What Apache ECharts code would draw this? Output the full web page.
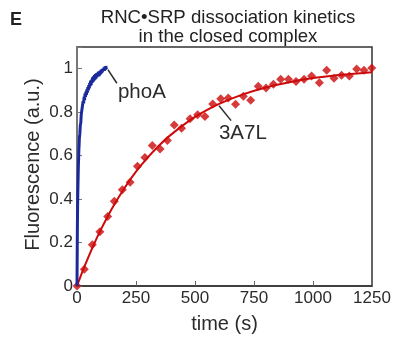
<!DOCTYPE html>
<html>
<head>
<meta charset="utf-8">
<script src="https://cdn.jsdelivr.net/npm/echarts@6/dist/echarts.min.js"></script>
<style>
  html, body { margin: 0; padding: 0; background: #fff; }
  #chart { width: 394px; height: 339px; }
</style>
</head>
<body>
<div id="chart"></div>
<script>
// 3A7L: measured points (time in s, normalised fluorescence)
const redTimes = [0, 31, 65, 97, 130, 158, 192, 225, 256, 288, 319, 352, 383, 412, 443, 479, 511, 542, 575, 609,
                  641, 672, 705, 736, 768, 801, 832, 863, 896, 928, 962, 994, 1027, 1058, 1089, 1121, 1154, 1185, 1216, 1249];
const redValues = [0, 0.077, 0.19, 0.25, 0.32, 0.39, 0.443, 0.477, 0.551, 0.591, 0.647, 0.63, 0.67, 0.741, 0.726, 0.77, 0.788, 0.78, 0.838, 0.862,
                   0.865, 0.836, 0.873, 0.855, 0.919, 0.911, 0.929, 0.951, 0.951, 0.941, 0.951, 0.966, 0.936, 0.993, 0.956, 0.97, 0.966, 0.999, 0.993, 1.003];

// 3A7L: fitted single-exponential curve
const redFitTimes = [0, 25, 50, 75, 100, 150, 200, 250, 300, 350, 400, 500, 600, 700, 800, 900, 1000, 1100, 1250];
const redFitValues = [0, 0.072, 0.138, 0.200, 0.257, 0.360, 0.449, 0.526, 0.592, 0.649, 0.698, 0.778, 0.837, 0.881, 0.914, 0.938, 0.957, 0.970, 0.984];

// phoA: fast trace
const blueTimes = [0, 0.5, 1, 1.5, 2, 2.5, 3, 3.5, 4, 5, 6, 7, 8, 9, 10, 12, 14, 16, 18, 20,
                   22, 24, 26, 28, 30, 32, 34, 36, 38, 40, 42, 44, 46, 48, 50, 52, 54, 56, 58, 60,
                   62, 64, 66, 68, 70, 72, 74, 76, 78, 80, 82, 84, 86, 88, 90, 92, 94, 96, 98, 100,
                   102, 104, 106, 108, 110, 112, 114, 116, 118, 120, 122, 124, 125];
const blueValues = [0, 0.09, 0.17, 0.25, 0.31, 0.36, 0.40, 0.43, 0.46, 0.51, 0.56, 0.59, 0.63, 0.65, 0.68, 0.70, 0.74, 0.75, 0.79, 0.79,
                    0.82, 0.82, 0.85, 0.84, 0.87, 0.855, 0.885, 0.87, 0.895, 0.88, 0.905, 0.89, 0.915, 0.90, 0.925, 0.91, 0.935, 0.92, 0.945, 0.925,
                    0.95, 0.935, 0.96, 0.94, 0.965, 0.945, 0.97, 0.95, 0.975, 0.955, 0.978, 0.96, 0.98, 0.965, 0.985, 0.965, 0.988, 0.97, 0.99, 0.975,
                    0.995, 0.98, 0.998, 0.985, 1.0, 0.99, 1.005, 0.99, 1.01, 0.995, 1.012, 1.0, 1.005];

const xTicks = [0, 250, 500, 750, 1000, 1250];
const yTicks = [0, 0.2, 0.4, 0.6, 0.8, 1];

const pair = (xs, ys) => xs.map((x, i) => [x, ys[i]]);

const FONT = '"Liberation Sans", Arial, sans-serif';
const TEXT = '#2b2b2b';
const RED = '#cc0a0a';
const BLUE = '#1a2a9c';

const chart = echarts.init(document.getElementById('chart'), null, { renderer: 'canvas' });

chart.setOption({
  animation: false,
  backgroundColor: '#fff',
  title: [
    {
      text: 'E', left: 10, top: 11, padding: 0,
      textStyle: { fontFamily: FONT, fontSize: 18, fontWeight: 'bold', color: '#222' }
    },
    {
      text: 'RNC\u2022SRP dissociation kinetics\nin the closed complex',
      left: 228, top: 8, padding: 0, textAlign: 'center',
      textStyle: { fontFamily: FONT, fontSize: 18.6, fontWeight: 'normal', color: '#222', lineHeight: 19 }
    }
  ],
  grid: {
    left: 77, right: 22, top: 47, bottom: 45,
    show: true, borderColor: '#333', borderWidth: 1.5, backgroundColor: 'transparent'
  },
  xAxis: {
    type: 'value', min: 0, max: 1250, interval: 250,
    name: 'time (s)', nameLocation: 'middle', nameGap: 28, nameMoveOverlap: false,
    nameTextStyle: { fontFamily: FONT, fontSize: 20, color: TEXT },
    axisLine: { show: true, onZero: false, lineStyle: { color: '#333', width: 1.5 } },
    axisTick: { show: true, inside: true, length: 5, lineStyle: { color: '#666' } },
    axisLabel: {
      fontFamily: FONT, fontSize: 17, color: TEXT, margin: 4,
      formatter: v => (xTicks.includes(v) ? String(v) : '')
    },
    splitLine: { show: false }
  },
  yAxis: {
    type: 'value', min: 0, max: 1.1, interval: 0.2,
    name: 'Fluorescence (a.u.)', nameLocation: 'middle', nameGap: 34, nameMoveOverlap: false,
    nameTextStyle: { fontFamily: FONT, fontSize: 20, color: TEXT, padding: [0, 0, 0, 4] },
    axisLine: { show: true, onZero: false, lineStyle: { color: '#777', width: 2 } },
    axisTick: { show: true, inside: true, length: 5, lineStyle: { color: '#777' } },
    axisLabel: {
      fontFamily: FONT, fontSize: 17, color: TEXT, margin: 4,
      formatter: v => {
        const hit = yTicks.find(t => Math.abs(t - v) < 1e-6);
        return hit === undefined ? '' : String(hit);
      }
    },
    splitLine: { show: false }
  },
  series: [
    {
      name: '3A7L fit', type: 'line', data: pair(redFitTimes, redFitValues),
      smooth: 0.3, showSymbol: false, silent: true,
      lineStyle: { color: RED, width: 2 }, z: 2
    },
    {
      name: '3A7L', type: 'scatter', data: pair(redTimes, redValues),
      symbol: 'diamond', symbolSize: 9,
      itemStyle: { color: RED }, z: 3,
      markLine: {
        silent: true, symbol: 'none', animation: false,
        lineStyle: { color: '#2b2b2b', width: 1.5, type: 'solid' },
        label: { show: false },
        data: [[{ coord: [602, 0.83] }, { coord: [653, 0.761] }]]
      },
      markPoint: {
        silent: true, symbol: 'rect', symbolSize: 1, itemStyle: { color: 'transparent' },
        label: { show: true, formatter: '3A7L', fontFamily: FONT, fontSize: 20.5, color: TEXT, position: 'inside' },
        data: [{ coord: [703, 0.703] }]
      }
    },
    {
      name: 'phoA', type: 'line', data: pair(blueTimes, blueValues),
      showSymbol: false, silent: true,
      lineStyle: { color: BLUE, width: 3 }, z: 4,
      markLine: {
        silent: true, symbol: 'none', animation: false,
        lineStyle: { color: '#2b2b2b', width: 1.5, type: 'solid' },
        label: { show: false },
        data: [[{ coord: [131, 0.996] }, { coord: [169, 0.933] }]]
      },
      markPoint: {
        silent: true, symbol: 'rect', symbolSize: 1, itemStyle: { color: 'transparent' },
        label: { show: true, formatter: 'phoA', fontFamily: FONT, fontSize: 20.5, color: TEXT, position: 'inside' },
        data: [{ coord: [275, 0.893] }]
      }
    }
  ]
});
</script>
</body>
</html>
